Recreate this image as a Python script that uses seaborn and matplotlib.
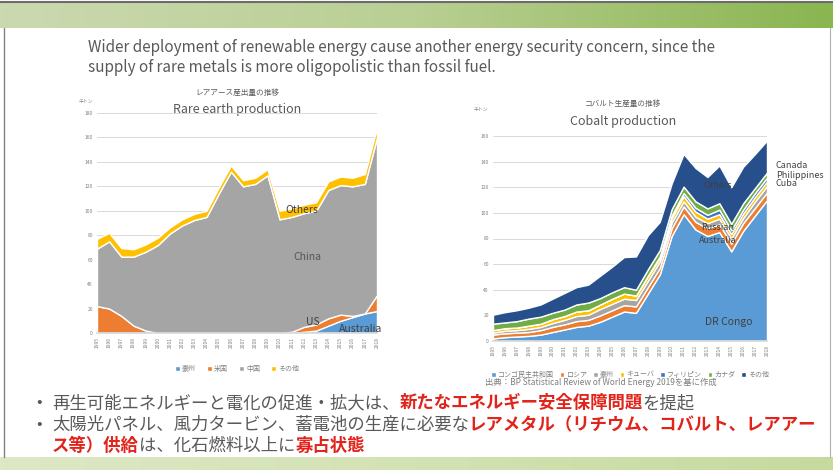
import matplotlib
matplotlib.use('Agg')
import matplotlib.pyplot as plt
import numpy as np
import seaborn as sns
from matplotlib.colors import LinearSegmentedColormap

# x axis: years
years = [str(y) for y in range(1995, 2019)]

# Rare earth production (thousand t)
re_labels = ['豪州', '米国', '中国', 'その他']
re_australia = [0, 0, 0, 0, 0, 0, 0, 0, 0, 0, 0, 0, 0, 0, 0, 0, 0, 1, 2, 6, 10, 13, 16, 18]
re_us = [22, 20, 14, 6, 2, 0, 0, 0, 0, 0, 0, 0, 0, 0, 0, 0, 1, 4, 5, 6, 5, 1, 0, 13]
re_china = [47, 55, 48.5, 56.5, 64.5, 72, 81.5, 88, 92.5, 95, 114, 132, 120, 122, 129,
            93, 94, 93, 93, 105, 106, 106, 106, 129]
re_others = [8, 7, 7, 6, 6, 6, 5, 5, 5, 5, 5, 5, 5, 5, 5, 7, 7, 7, 7, 7, 7, 7, 8, 8]

# Cobalt production (thousand t)
co_labels = ['コンゴ民主共和国', 'ロシア', '豪州', 'キューバ', 'フィリピン', 'カナダ', 'その他']
co_drc = [2, 3, 3.5, 4, 5, 7, 9, 11, 12, 15, 19, 23, 22, 37, 52, 82, 99, 87, 82, 85, 70, 86, 98, 110]
co_russia = [3, 3, 3, 3, 3.5, 4, 4, 4.5, 4.5, 5, 5, 5, 5, 5, 5, 6, 6, 6, 6, 6, 6, 6, 6, 6]
co_australia = [1.5, 2, 2, 2.5, 2.5, 3, 3.5, 4, 4, 5, 5, 5, 5, 5, 5, 4.5, 4, 4, 4, 4.5, 4, 4, 5, 5]
co_cuba = [2, 2, 2, 2.5, 2.5, 3, 3, 3.5, 3.5, 3.5, 4, 4, 3.5, 3.5, 3, 3.5, 4, 4, 3.5, 3.5, 3.5, 3.5, 3.5, 3.5]
co_philippines = [0, 0, 0, 0, 0, 0, 0, 0, 0, 0, 0, 0, 0, 0.5, 1, 2, 2.5, 3, 3, 3.5, 3, 3, 3, 3]
co_canada = [5, 4.5, 5, 5.5, 5.5, 5, 5, 5.5, 6, 5, 5, 5, 4.5, 5, 5, 5, 5, 5, 5, 5, 5, 5, 4, 4]
co_others = [7, 8, 8.5, 8.5, 9.5, 11, 13, 13.5, 14, 17.5, 20, 23.5, 26, 26.5, 22, 20, 25.5,
             26, 24.5, 29.5, 28.5, 28.5, 26.5, 25]

re_colors = ['#5B9BD5', '#ED7D31', '#A5A5A5', '#FFC000']
co_colors = ['#5B9BD5', '#ED7D31', '#A5A5A5', '#FFC000', '#4472C4', '#70AD47', '#264F8C']

GRAY = '#595959'
RED = '#E2231A'

sns.set_theme(style='white')
plt.rcParams['font.family'] = ['Noto Sans CJK JP', 'DejaVu Sans']

fig = plt.figure(figsize=(8.33, 4.70), dpi=100)
fig.patch.set_facecolor('white')

# background / slide frame, in pixel units
bg = fig.add_axes([0, 0, 1, 1], zorder=-5)
grad = np.linspace(0, 1, 256).reshape(1, -1)
top_cmap = LinearSegmentedColormap.from_list('top', ['#cbd9b0', '#b9cf93', '#8ab550'])
bot_cmap = LinearSegmentedColormap.from_list('bot', ['#dde8c6', '#d3e2b3', '#c6da9e'])
bg.imshow(grad, cmap=top_cmap, extent=(0, 833, 28, 2), aspect='auto')
bg.imshow(grad, cmap=bot_cmap, extent=(0, 833, 470, 457), aspect='auto')
bg.plot([0, 833], [1.5, 1.5], color='#6b6b6b', lw=1.5)
bg.plot([4, 4], [28, 457], color='#808080', lw=1)
bg.plot([830, 830], [28, 457], color='#b0b0b0', lw=0.8)
bg.set_xlim(0, 833)
bg.set_ylim(470, 0)
bg.axis('off')

bg.text(88, 47, 'Wider deployment of renewable energy cause another energy security concern, since the',
        fontsize=11, color=GRAY, va='center')
bg.text(88, 68, 'supply of rare metals is more oligopolistic than fossil fuel.',
        fontsize=11, color=GRAY, va='center')


def style_axis(ax, ymax, step):
    ax.set_facecolor('none')
    ax.set_xlim(0, len(years) - 1)
    ax.set_ylim(0, ymax)
    ax.set_yticks(range(0, ymax + 1, step))
    ax.set_yticklabels([str(v) for v in range(0, ymax + 1, step)], fontsize=3.5, color='#7f7f7f')
    ax.set_xticks(range(len(years)))
    ax.set_xticklabels(years, rotation=90, fontsize=3.5, color='#7f7f7f')
    ax.grid(axis='y', color='#d9d9d9', lw=0.7)
    ax.grid(axis='x', visible=False)
    ax.set_axisbelow(True)
    sns.despine(ax=ax, left=True)
    ax.spines['bottom'].set_color('#d9d9d9')
    ax.tick_params(length=0, pad=3)


# Rare earth chart
ax1 = fig.add_axes([97 / 833, 1 - 333 / 470, 280 / 833, 220 / 470])
polys1 = ax1.stackplot(range(len(years)), re_australia, re_us, re_china, re_others,
                       colors=re_colors, labels=re_labels)
style_axis(ax1, 180, 20)
ax1.legend(handles=polys1, labels=re_labels, loc='upper center', bbox_to_anchor=(0.5, -0.115),
           ncol=4, fontsize=5, frameon=False, handlelength=0.7, handleheight=0.7,
           handletextpad=0.3, columnspacing=1.6, labelcolor='#7f7f7f')
ax1.text(0.73, 0.56, 'Others', transform=ax1.transAxes, fontsize=7.5, color='#404040', ha='center', va='center')
ax1.text(0.75, 0.345, 'China', transform=ax1.transAxes, fontsize=7.5, color='#555555', ha='center', va='center')
ax1.text(0.77, 0.05, 'US', transform=ax1.transAxes, fontsize=7.5, color='#404040', ha='center', va='center')
ax1.text(0.94, 0.02, 'Australia', transform=ax1.transAxes, fontsize=7.5, color='#404040', ha='center', va='center')
bg.text(237, 93, 'レアアース産出量の推移', fontsize=5.5, color=GRAY, ha='center', va='center')
bg.text(237, 109, 'Rare earth production', fontsize=9, color=GRAY, ha='center', va='center')
bg.text(86, 101, '千トン', fontsize=3.5, color='#7f7f7f', ha='center', va='center')

# Cobalt chart
ax2 = fig.add_axes([493 / 833, 1 - 341 / 470, 274 / 833, 205 / 470])
polys2 = ax2.stackplot(range(len(years)), co_drc, co_russia, co_australia, co_cuba,
                       co_philippines, co_canada, co_others, colors=co_colors, labels=co_labels)
style_axis(ax2, 160, 20)
ax2.legend(handles=polys2, labels=co_labels, loc='upper center', bbox_to_anchor=(0.5, -0.115),
           ncol=7, fontsize=5, frameon=False, handlelength=0.7, handleheight=0.7,
           handletextpad=0.3, columnspacing=0.8, labelcolor='#7f7f7f')
ax2.text(0.82, 0.76, 'Others', transform=ax2.transAxes, fontsize=6.5, color='#404040', ha='center', va='center')
ax2.text(0.82, 0.555, 'Russian', transform=ax2.transAxes, fontsize=6.5, color='#404040', ha='center', va='center')
ax2.text(0.82, 0.49, 'Australia', transform=ax2.transAxes, fontsize=6.5, color='#404040', ha='center', va='center')
ax2.text(0.86, 0.095, 'DR Congo', transform=ax2.transAxes, fontsize=7.5, color='#404040', ha='center', va='center')
bg.text(776, 165, 'Canada', fontsize=6.5, color='#404040', ha='left', va='center')
bg.text(776, 175, 'Philippines', fontsize=6.5, color='#404040', ha='left', va='center')
bg.text(776, 184, 'Cuba', fontsize=6.5, color='#404040', ha='left', va='center')
bg.text(623, 104, 'コバルト生産量の推移', fontsize=5.5, color=GRAY, ha='center', va='center')
bg.text(623, 122, 'Cobalt production', fontsize=9, color=GRAY, ha='center', va='center')
bg.text(481, 109, '千トン', fontsize=3.5, color='#7f7f7f', ha='center', va='center')
bg.text(485, 382, '出典：BP Statistical Review of World Energy 2019を基に作成', fontsize=6,
        color='#7f7f7f', ha='left', va='center')

# bullet lines with red emphasis
renderer = fig.canvas.get_renderer()


def rich_line(x, y, parts, size=12.5):
    for s, red in parts:
        t = bg.text(x, y, s, fontsize=size, color=RED if red else GRAY,
                    fontweight='bold' if red else 'normal', ha='left', va='center')
        x += t.get_window_extent(renderer).width


bg.text(36, 403, '•', fontsize=12, color=GRAY, ha='left', va='center')
bg.text(36, 425, '•', fontsize=12, color=GRAY, ha='left', va='center')
rich_line(52, 403, [('再生可能エネルギーと電化の促進・拡大は、', False),
                    ('新たなエネルギー安全保障問題', True), ('を提起', False)])
rich_line(52, 425, [('太陽光パネル、風力タービン、蓄電池の生産に必要な', False),
                    ('レアメタル（リチウム、コバルト、レアアー', True)])
rich_line(52, 446, [('ス等）供給', True), ('は、化石燃料以上に', False), ('寡占状態', True)])

fig.savefig('out.png', dpi=100)
